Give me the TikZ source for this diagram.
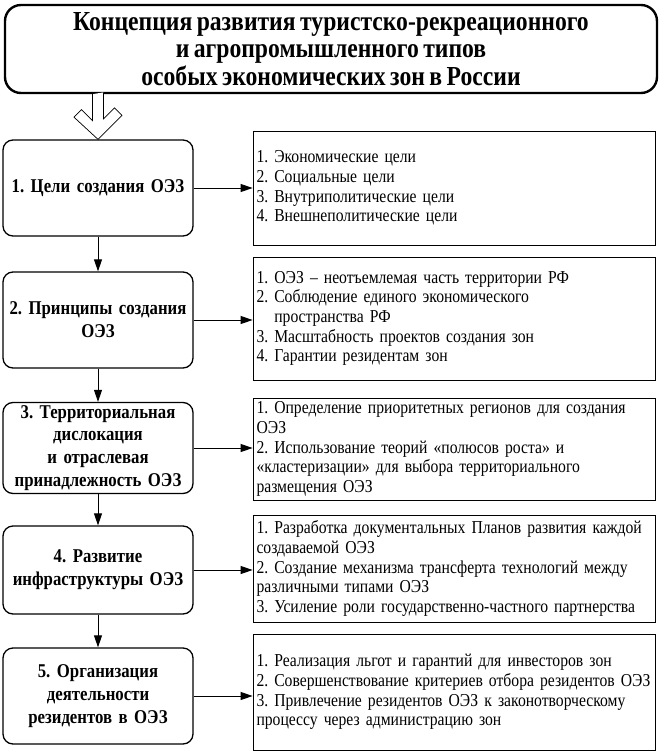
\documentclass[tikz,border=0pt]{standalone}
\usepackage{fontspec}
\setmainfont{Liberation Serif}
\newfontfamily\condfont[FakeStretch=0.86,WordSpace=0.75]{Liberation Serif}
\usetikzlibrary{arrows.meta}
\frenchspacing
\begin{document}
\begin{tikzpicture}[x=1pt,y=-1pt,
  titlebox/.style={draw, line width=2.4pt, rounded corners=16pt, minimum width=652pt, minimum height=88pt, align=center, inner sep=0pt, font=\condfont\bfseries\fontsize{27.5}{27.5}\selectfont},
  stagebox/.style={draw, line width=1.3pt, rounded corners=10pt, minimum width=190pt, text width=186pt, align=center, inner sep=0pt, font=\condfont\bfseries\fontsize{19.5}{22.8}\selectfont},
  infobox/.style={draw, line width=0.8pt, minimum width=402pt, text width=395pt, align=left, inner xsep=3.5pt, inner ysep=0pt, font=\condfont\fontsize{18.2}{19.6}\selectfont},
  link/.style={-{Triangle[length=12pt,width=8pt]}, line width=0.9pt},
  hollow/.style={line width=0.7pt, fill=white}
]
\useasboundingbox (0,0) rectangle (663,753);
\node[titlebox] (t) at (331,49) {Концепция развития туристско-рекреационного\\и агропромышленного типов\\особых экономических зон в России};

\node[stagebox, minimum height=96pt] (s1) at (98,188) {1. Цели создания ОЭЗ};
\node[stagebox, minimum height=96pt] (s2) at (98,320) {2. Принципы создания\\ОЭЗ};
\node[stagebox, minimum height=91pt] (s3) at (98,448) {3. Территориальная\\дислокация\\и отраслевая\\принадлежность ОЭЗ};
\node[stagebox, minimum height=88pt] (s4) at (98,570) {4. Развитие\\инфраструктуры ОЭЗ};
\node[stagebox, minimum height=96pt] (s5) at (98,696) {5. Организация\\деятельности\\резидентов в ОЭЗ};

\node[infobox, minimum height=114pt] (i1) at (454,188) {1. Экономические цели\\2. Социальные цели\\3. Внутриполитические цели\\4. Внешнеполитические цели};
\node[infobox, minimum height=123pt] (i2) at (454,318.5) {1. ОЭЗ – неотъемлемая часть территории РФ\\2. Соблюдение единого экономического\\\hphantom{2. }пространства РФ\\3. Масштабность проектов создания зон\\4. Гарантии резидентам зон};
\node[infobox, minimum height=102pt] (i3) at (454,449) {1. Определение приоритетных регионов для создания\\ОЭЗ\\2. Использование теорий «полюсов роста» и\\«кластеризации» для выбора территориального\\размещения ОЭЗ};
\node[infobox, minimum height=107pt] (i4) at (454,568.5) {1. Разработка документальных Планов развития каждой\\создаваемой ОЭЗ\\2. Создание механизма трансферта технологий между\\различными типами ОЭЗ\\3. Усиление роли государственно-частного партнерства};
\node[infobox, minimum height=116pt] (i5) at (454,692) {1. Реализация льгот и гарантий для инвесторов зон\\2. Совершенствование критериев отбора резидентов ОЭЗ\\3. Привлечение резидентов ОЭЗ к законотворческому\\процессу через администрацию зон};

\coordinate (ha) at (s1.north |- t.south);
\draw[hollow] (ha) ++(-5.5,0) -- ++(0,26.5) -- ++(-11,-11) -- ++(-7.5,7.5) -- (s1.north) -- ++(24,-24) -- ++(-7.5,-7.5) -- ++(-11,11) -- ++(0,-26.5);

\foreach \a/\b in {s1/s2,s2/s3,s3/s4,s4/s5}
  \draw[link] (\a.south) -- (\b.north);
\foreach \n in {1,...,5}
  \draw[link] (s\n.east) -- (s\n.east -| i\n.west);
\end{tikzpicture}
\end{document}
